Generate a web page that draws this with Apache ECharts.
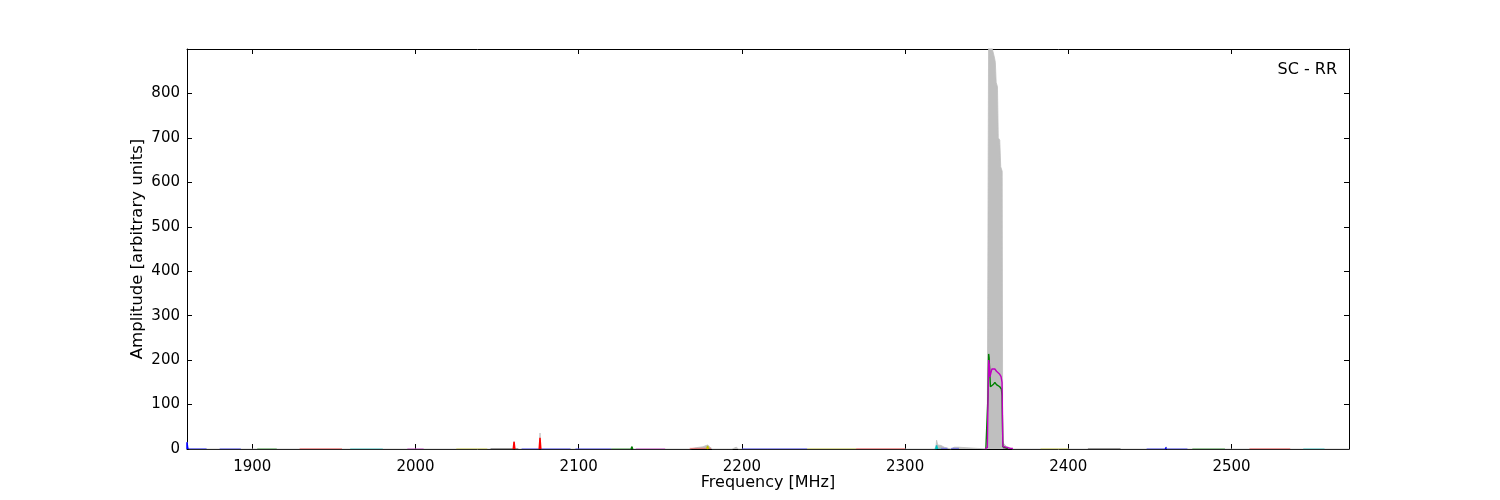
<!DOCTYPE html>
<html>
<head>
<meta charset="utf-8">
<script src="https://cdn.jsdelivr.net/npm/echarts@6/dist/echarts.min.js"></script>
<style>html,body{margin:0;padding:0;background:#fff;}#c{width:1500px;height:500px;}</style>
</head>
<body>
<div id="c"></div>
<script>
// ---- data ----
const xTicks = [1900, 2000, 2100, 2200, 2300, 2400, 2500];
const yTicks = [0, 100, 200, 300, 400, 500, 600, 700, 800];
const annotation = 'SC - RR';

// grey max-hold envelope
const grayFreq = [1860, 1860.3, 1861, 2060.2, 2060.4, 2060.7, 2076.0, 2076.3, 2076.7, 2132.4, 2132.6, 2132.9,
  2168, 2172, 2176, 2179, 2180.5, 2182, 2189, 2190, 2191, 2194, 2195, 2196.5, 2198,
  2318.8, 2319.3, 2320, 2322, 2324, 2326, 2328, 2330, 2333, 2334,
  2350.3, 2350.7, 2351.2, 2352.8, 2353.4, 2353.8, 2354.8, 2355.3, 2355.8, 2356.6, 2357.1, 2358.0, 2358.6, 2359.5, 2359.8,
  2360.5, 2362, 2364, 2366, 2377.3, 2377.6, 2378, 2459.8, 2460, 2460.3, 2572];
const grayAmp = [16, 5, 0, 0, 17, 0, 0, 36, 0, 0, 6, 0,
  0, 3, 5, 9, 4, 0, 0, 4, 0, 0, 4, 4, 0,
  0, 20, 9, 8, 4, 2, 0, 4, 4, 0,
  0, 400, 960, 960, 900, 895, 880, 870, 825, 815, 700, 695, 635, 625, 20,
  12, 6, 3, 0, 0, 4, 0, 0, 5, 0, 0];

// green trace across the strong emitter
const greenFreq = [2349.5, 2350.4, 2350.8, 2351.2, 2351.5, 2351.9, 2352.3, 2353, 2354, 2355, 2356, 2357, 2358, 2359, 2359.4, 2359.9, 2361, 2363];
const greenAmp  = [1, 3, 120, 214, 205, 170, 140, 143, 145, 150, 145, 143, 140, 135, 120, 5, 2, 1];

// magenta trace across the strong emitter
const magFreq = [2349, 2350.4, 2350.8, 2351.2, 2351.6, 2352.0, 2352.5, 2353.2, 2354, 2355, 2356, 2357, 2358, 2358.8, 2359.4, 2359.9, 2361, 2364, 2366];
const magAmp  = [1, 3, 110, 200, 190, 162, 170, 180, 178, 180, 175, 172, 168, 163, 150, 6, 3, 2, 1];

// low-level sub-band sweeps
const bandStart = [1860, 1880, 1903, 1929, 1960, 1995, 2025, 2046, 2065, 2098, 2120, 2135, 2168, 2200, 2240, 2270, 2318, 2322, 2328, 2360, 2383, 2412, 2448, 2476, 2511, 2544];
const bandEnd   = [1872, 1893, 1915, 1955, 1980, 2005, 2044, 2063, 2095, 2120, 2133, 2153, 2181, 2240, 2270, 2300, 2322, 2326, 2333, 2366, 2400, 2432, 2473, 2496, 2536, 2557];
const bandLevel = [1, 0.5, 0.5, 0.5, 0.5, 0.5, 0.5, 0.5, 0.5, 0.5, 0.5, 0.5, 1.5, 0.5, 0.5, 0.5, 1.5, 1.5, 1.5, 1, 0.5, 0.5, 0.5, 0.5, 0.5, 0.5];

// narrow spikes on the sweeps
const spikeFreq = [1860, 2060.4, 2076.3, 2132.6, 2179, 2319.3, 2460];
const spikeAmp  = [15, 16, 25, 5, 7, 8, 4];

// ---- styles ----
const C = {b:'#0000ff', g:'#008000', r:'#ff0000', c:'#00bfbf', m:'#bf00bf', y:'#bfbf00', k:'#000000'};
const bandColorKeys = ['b','b','g','r','c','m','y','k','b','b','g','m','r','b','y','r','c','b','b','m','y','k','b','g','r','c'];
const spikeColorKeys = ['b','r','r','g','y','c','b'];
const spikeHalfWidth = 0.5;
const FONT = 'DejaVu Sans';

const zip = (a, b) => a.map((v, i) => [v, b[i]]);

const series = [];
series.push({
  type: 'line', data: zip(grayFreq, grayAmp), showSymbol: false, symbol: 'none',
  lineStyle: {color: '#bfbfbf', width: 0.8}, areaStyle: {color: '#bfbfbf', opacity: 1},
  itemStyle: {color: '#bfbfbf'}, z: 1
});
bandStart.forEach((s, i) => {
  series.push({
    type: 'line', data: [[s, bandLevel[i]], [bandEnd[i], bandLevel[i]]], symbol: 'none',
    lineStyle: {color: C[bandColorKeys[i]], width: 1, opacity: 0.45}, z: 2
  });
});
spikeFreq.forEach((f, i) => {
  series.push({
    type: 'line', data: [[Math.max(1860, f - spikeHalfWidth), 0], [f, spikeAmp[i]], [f + spikeHalfWidth, 0]], symbol: 'none',
    lineStyle: {color: C[spikeColorKeys[i]], width: 1.5}, areaStyle: {color: C[spikeColorKeys[i]], opacity: 1}, z: 3
  });
});
series.push({
  type: 'line', data: zip(greenFreq, greenAmp), symbol: 'none',
  lineStyle: {color: C.g, width: 1.4}, z: 4
});
series.push({
  type: 'line', data: zip(magFreq, magAmp), symbol: 'none',
  lineStyle: {color: C.m, width: 1.4}, z: 5
});

const axisCommon = {
  axisLine: {show: true, onZero: false, lineStyle: {color: '#000', width: 1}},
  splitLine: {show: false}
};
const plain = v => String(v);

const option = {
  animation: false,
  backgroundColor: '#fff',
  grid: {left: 187, right: 151, top: 49, bottom: 51, show: false},
  xAxis: [
    Object.assign({}, axisCommon, {
      type: 'value', min: 1860, max: 2572, position: 'bottom',
      axisTick: {show: true, inside: true, length: 5, customValues: xTicks, lineStyle: {color: '#000'}},
      axisLabel: {show: true, customValues: xTicks, formatter: plain, color: '#000', fontSize: 15, fontFamily: FONT, margin: 11},
      name: 'Frequency [MHz]', nameLocation: 'middle', nameGap: 26, nameMoveOverlap: false,
      nameTextStyle: {color: '#000', fontSize: 16, fontFamily: FONT}
    }),
    Object.assign({}, axisCommon, {
      type: 'value', min: 1860, max: 2572, position: 'top',
      axisTick: {show: true, inside: true, length: 5, customValues: xTicks, lineStyle: {color: '#000'}},
      axisLabel: {show: false}
    })
  ],
  yAxis: [
    Object.assign({}, axisCommon, {
      type: 'value', min: 0, max: 900, position: 'left',
      axisTick: {show: true, inside: true, length: 5, customValues: yTicks, lineStyle: {color: '#000'}},
      axisLabel: {show: true, customValues: yTicks, formatter: plain, color: '#000', fontSize: 15, fontFamily: FONT, margin: 7},
      name: 'Amplitude [arbitrary units]', nameLocation: 'middle', nameGap: 41, nameMoveOverlap: false,
      nameTextStyle: {color: '#000', fontSize: 16.5, fontFamily: FONT}
    }),
    Object.assign({}, axisCommon, {
      type: 'value', min: 0, max: 900, position: 'right',
      axisTick: {show: true, inside: true, length: 5, customValues: yTicks, lineStyle: {color: '#000'}},
      axisLabel: {show: false}
    })
  ],
  graphic: [{
    type: 'text', right: 163, top: 62, z: 100,
    style: {text: annotation, font: '16px "DejaVu Sans"', fill: '#000'}
  }],
  series: series
};

const chart = echarts.init(document.getElementById('c'), null, {renderer: 'canvas'});
chart.setOption(option);
</script>
</body>
</html>
